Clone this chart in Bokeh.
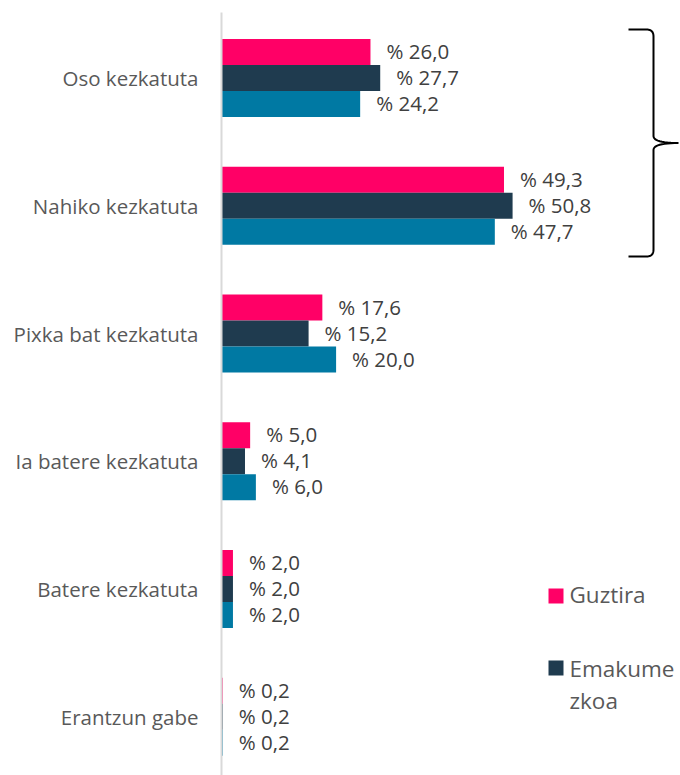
from bokeh.plotting import figure
from bokeh.models import Range1d, FixedTicker, ColumnDataSource
from bokeh.core.properties import value
from bokeh.embed import file_html
from bokeh.resources import INLINE

# ---- data ----
categories = ["Oso kezkatuta", "Nahiko kezkatuta", "Pixka bat kezkatuta",
              "Ia batere kezkatuta", "Batere kezkatuta", "Erantzun gabe"]
guztira = [26.0, 49.3, 17.6, 5.0, 2.0, 0.2]
emakumezkoa = [27.7, 50.8, 15.2, 4.1, 2.0, 0.2]
gizonezkoa = [24.2, 47.7, 20.0, 6.0, 2.0, 0.2]
series_names = ["Guztira", "Emakumezkoa", "Gizonezkoa"]
legend_lines = [["Guztira"], ["Emakume", "zkoa"]]  # as wrapped in the reference

# ---- style / layout ----
colors = ["#FF0066", "#1F3B4F", "#0079A3"]
FONT = "Open Sans"
W, H = 680, 775
LEFT, TOP = 221, 12
PX = 5.73          # pixels per percentage unit
CAT = 127.75       # pixels per category
FIRST = 65.5       # first category centre below frame top
BAR_H = 26 / CAT

def sx(px):  # picture x -> data x
    return (px - LEFT) / PX

def sy(py):  # picture y -> data y
    return (py - TOP - FIRST) / CAT

frame_h = H - TOP
p = figure(width=W, height=H,
           x_range=Range1d(0, (W - LEFT) / PX),
           y_range=Range1d(start=(frame_h - FIRST) / CAT, end=-FIRST / CAT),
           output_backend="svg", toolbar_location=None, x_axis_location=None,
           min_border_left=LEFT, min_border_top=TOP, min_border_right=0, min_border_bottom=0)
p.outline_line_color = None
p.grid.visible = False

ax = p.yaxis[0]
ax.ticker = FixedTicker(ticks=list(range(len(categories))))
ax.major_label_overrides = {i: c for i, c in enumerate(categories)}
ax.axis_line_color = "#D9D9D9"
ax.axis_line_width = 2
ax.major_tick_line_color = None
ax.minor_tick_line_color = None
ax.major_label_text_font = FONT
ax.major_label_text_font_size = "20.5px"
ax.major_label_text_color = "#595959"
ax.major_label_standoff = 17

offsets = [-BAR_H, 0.0, BAR_H]
for k, vals in enumerate([guztira, emakumezkoa, gizonezkoa]):
    src = ColumnDataSource(dict(
        y=[i + offsets[k] for i in range(len(categories))],
        right=vals,
        label=["% " + f"{v:.1f}".replace(".", ",") for v in vals],
    ))
    p.hbar(y="y", left=0, right="right", height=BAR_H, source=src,
           fill_color=colors[k], line_color=None)
    p.text(x="right", y="y", text="label", source=src, x_offset=16, y_offset=-1,
           text_align="left", text_baseline="middle",
           text_font=value(FONT), text_font_size="20.5px", text_color="#404040")

# ---- legend (visible part) ----
leg_sq_y = [595.5, 667.5]
leg_txt_y = [[594], [668, 700]]
for k, lines in enumerate(legend_lines):
    p.scatter(x=[sx(555.5)], y=[sy(leg_sq_y[k])], marker="square", size=15,
              fill_color=colors[k], line_color=None)
    p.text(x=[sx(569)] * len(lines), y=[sy(v) for v in leg_txt_y[k]], text=lines,
           text_align="left", text_baseline="middle",
           text_font=value(FONT), text_font_size="22.5px", text_color="#595959")

# ---- brace ----
def qcurve(p0, c, p1, n=12):
    pts = []
    for i in range(n + 1):
        t = i / n
        x = (1 - t) ** 2 * p0[0] + 2 * (1 - t) * t * c[0] + t ** 2 * p1[0]
        y = (1 - t) ** 2 * p0[1] + 2 * (1 - t) * t * c[1] + t ** 2 * p1[1]
        pts.append((x, y))
    return pts

bx, bt, bb, bl, tip = 653, 29, 256, 628, 678
bm = (bt + bb) / 2
path = [(bl, bt), (bx - 7, bt)]
path += qcurve((bx - 7, bt), (bx, bt), (bx, bt + 7))
path += [(bx, bm - 7)]
path += qcurve((bx, bm - 7), (bx, bm), (tip, bm))
path += qcurve((tip, bm), (bx, bm), (bx, bm + 7))
path += [(bx, bb - 7)]
path += qcurve((bx, bb - 7), (bx, bb), (bx - 7, bb))
path += [(bl, bb)]
p.line(x=[sx(a) for a, b in path], y=[sy(b) for a, b in path],
       line_color="black", line_width=2)

open("out.html", "w").write(file_html(p, INLINE))
